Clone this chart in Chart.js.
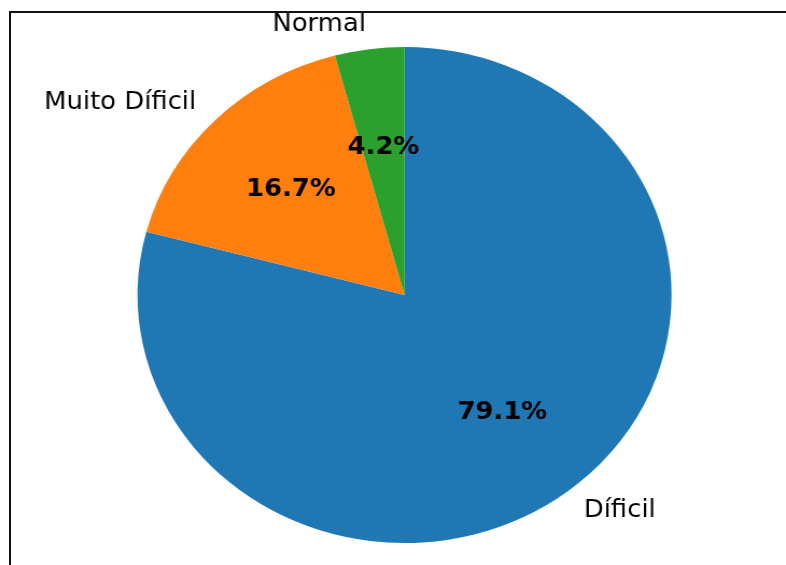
<!DOCTYPE html>
<html>
<head>
<meta charset="utf-8">
<script src="https://cdn.jsdelivr.net/npm/chart.js@4/dist/chart.umd.min.js"></script>
<style>
  html, body { margin: 0; padding: 0; background: #fff; }
  #page { position: relative; width: 786px; height: 565px; overflow: hidden; background: #fff; }
  #stretch { position: absolute; left: 0; top: 0; width: 730px; height: 565px; transform-origin: 0 0; transform: scaleX(1.0767); }
  #frameTop { position: absolute; left: 9px; top: 11px; width: 777px; height: 2px; background: #111; }
  #frameLeft { position: absolute; left: 9px; top: 11px; width: 2px; height: 554px; background: #111; }
</style>
</head>
<body>
<div id="page">
  <div id="stretch"><canvas id="c" width="730" height="565"></canvas></div>
  <div id="frameTop"></div>
  <div id="frameLeft"></div>
</div>
<script>
const categories = ['Díficil', 'Muito Díficil', 'Normal'];
const percentages = [79.1, 16.7, 4.2];
const sliceColors = ['#1f77b4', '#ff7f0e', '#2ca02c'];

const pieLabels = {
  id: 'pieLabels',
  afterDatasetsDraw(chart) {
    const ctx = chart.ctx;
    const meta = chart.getDatasetMeta(0);
    ctx.save();
    ctx.fillStyle = '#000';
    meta.data.forEach((arc, i) => {
      const p = arc.getProps(['x', 'y', 'startAngle', 'endAngle', 'outerRadius'], true);
      const mid = (p.startAngle + p.endAngle) / 2;
      const c = Math.cos(mid), s = Math.sin(mid);
      // percentage labels
      ctx.font = 'bold 24px "DejaVu Sans"';
      ctx.textAlign = 'center';
      ctx.textBaseline = 'middle';
      ctx.fillText(percentages[i].toFixed(1) + '%', p.x + 0.6 * p.outerRadius * c, p.y + 0.6 * p.outerRadius * s);
      // category labels
      ctx.font = '24px "DejaVu Sans"';
      ctx.textAlign = c > 0 ? 'left' : 'right';
      ctx.fillText(categories[i], p.x + 1.1 * p.outerRadius * c, p.y + 1.1 * p.outerRadius * s);
    });
    ctx.restore();
  }
};

new Chart(document.getElementById('c'), {
  type: 'pie',
  data: {
    labels: categories,
    datasets: [{
      data: percentages,
      backgroundColor: sliceColors,
      borderWidth: 0
    }]
  },
  options: {
    responsive: false,
    animation: false,
    layout: { padding: { left: 127.7, right: 106.3, top: 47, bottom: 22 } },
    plugins: { legend: { display: false }, tooltip: { enabled: false } }
  },
  plugins: [pieLabels]
});
</script>
</body>
</html>
